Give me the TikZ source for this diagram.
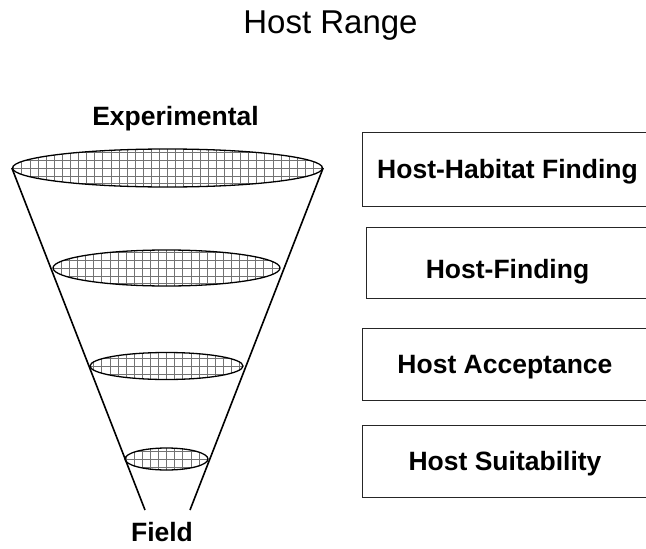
\documentclass[tikz,border=0pt]{standalone}
\usepackage{fontspec}
\setmainfont{Liberation Sans}
\usetikzlibrary{shapes.geometric}
\begin{document}
\begin{tikzpicture}[x=1pt,y=-1pt,
  % hatched (grid-filled) cross sections of the funnel
  disc/.style={ellipse, draw=black, line width=1.3pt, fill=white, inner sep=0pt,
    path picture={\draw[black!55, line width=0.45pt, xstep=8.1pt, ystep=7.8pt]
      ([shift={(-8pt,-8pt)}]path picture bounding box.south west) grid
      ([shift={(8pt,8pt)}]path picture bounding box.north east);}},
  funnel/.style={line width=1.6pt, black},
  stagebox/.style={draw=black!85, line width=1.2pt, rectangle, inner sep=0pt, anchor=north west},
  stagetext/.style={anchor=base, font=\bfseries\fontsize{26.5}{31}\selectfont},
  endlabel/.style={anchor=base, inner sep=0pt, text depth=0pt, font=\bfseries\fontsize{26.5}{31}\selectfont},
  titletext/.style={anchor=base, font=\fontsize{33}{39}\selectfont}
]
\clip (0,0) rectangle (646,549);
\fill[white] (0,0) rectangle (646,549);

% title
\node[titletext] (title) at (330.5,33) {Host Range};

% funnel cross sections
\node[disc, minimum width=310pt, minimum height=38pt] (e1) at (167.5,168) {};
\node[disc, minimum width=227pt, minimum height=36pt] (e2) at (166.5,268) {};
\node[disc, minimum width=153pt, minimum height=27pt] (e3) at (166.5,366) {};
\node[disc, minimum width=83pt,  minimum height=22pt] (e4) at (166.5,459) {};

% funnel walls
\coordinate (bl) at (145,510);
\coordinate (br) at (190,510);
\draw[funnel] (e1.west) -- (bl);
\draw[funnel] (e1.east) -- (br);

% end labels
\node[endlabel] (exp) at (175.5,125) {Experimental};
\node[endlabel] (field) at (162,541) {Field};

% stage boxes
\node[stagebox, minimum width=290pt, minimum height=74pt] (b1) at (362,132) {};
\node[stagebox, minimum width=283pt, minimum height=71pt] (b2) at (366,227) {};
\node[stagebox, minimum width=290pt, minimum height=72pt] (b3) at (362,328) {};
\node[stagebox, minimum width=290pt, minimum height=72pt] (b4) at (362,425) {};

\node[stagetext] (t1) at (507.5,178) {Host-Habitat Finding};
\node[stagetext] (t2) at (507.5,278) {Host-Finding};
\node[stagetext] (t3) at (505,373) {Host Acceptance};
\node[stagetext] (t4) at (505,470) {Host Suitability};
\end{tikzpicture}
\end{document}
